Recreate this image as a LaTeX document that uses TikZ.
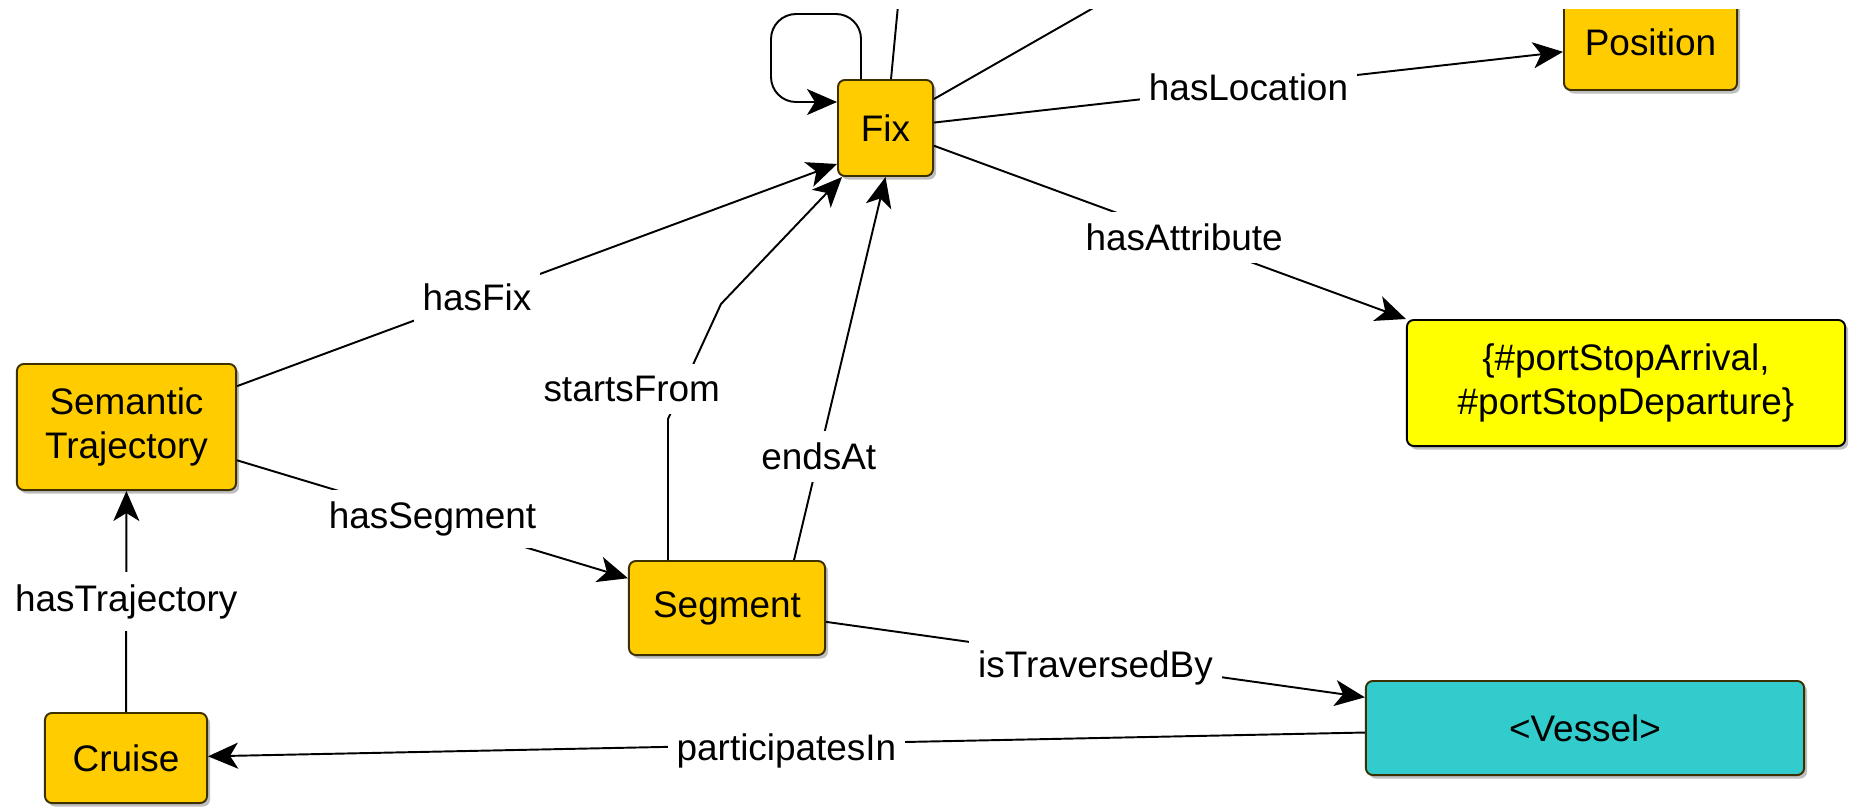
\documentclass[tikz,border=0pt]{standalone}
\usepackage{fontspec}
\setmainfont{Liberation Sans}
\usetikzlibrary{arrows.meta,calc,shadows}

\definecolor{fixorange}{RGB}{255,204,0}
\definecolor{attryellow}{RGB}{255,255,0}
\definecolor{vesselteal}{RGB}{51,204,204}
\definecolor{boxline}{RGB}{60,48,0}

\tikzset{
  concept/.style={draw=boxline, line width=0.55pt, rounded corners=0.07cm, fill=fixorange,
    inner sep=0pt, align=center, font=\fontsize{10.5}{12.5}\selectfont,
    drop shadow={shadow xshift=0.03cm, shadow yshift=-0.035cm, fill=black!25, opacity=1}},
  rel/.style={line width=0.55pt, -{Stealth[length=0.3cm, width=0.26cm, inset=0.08cm]}},
  link/.style={line width=0.55pt},
  lbl/.style={fill=white, inner xsep=0.09cm, inner ysep=0.12cm, font=\fontsize{10.5}{12.5}\selectfont},
}

\begin{document}
\begin{tikzpicture}[x=0.01cm, y=-0.01cm]
            \useasboundingbox (0,0) rectangle (1849,806);
            \clip (0,9) rectangle (1849,806);

            \node[concept, minimum width=0.95cm, minimum height=0.96cm] (fix) at (885.5,128) {Fix};
            \node[concept, minimum width=1.73cm, minimum height=0.96cm] (position) at (1650.5,42) {Position};
            \node[concept, fill=attryellow, draw=black, minimum width=4.38cm, minimum height=1.26cm] (attr) at (1626,383) {\{\#portStopArrival,\\\#portStopDeparture\}};
            \node[concept, minimum width=2.19cm, minimum height=1.26cm] (semtraj) at (126.5,427) {Semantic\\Trajectory};
            \node[concept, minimum width=1.96cm, minimum height=0.94cm] (segment) at (727,608) {Segment};
            \node[concept, minimum width=1.62cm, minimum height=0.90cm] (cruise) at (126,758) {Cruise};
            \node[concept, fill=vesselteal, minimum width=4.38cm, minimum height=0.94cm] (vessel) at (1585,728) {<Vessel>};

            \coordinate (upA) at (899,-5);
            \coordinate (upB) at (1116,-5);
            \draw[link] ($(fix.north west)+(54,0)$) -- (upA);
            \draw[link] ($(fix.north east)+(0,20)$) -- (upB);
            \draw[rel, rounded corners=0.25cm] ($(fix.north west)+(24,0)$) -- ++(0,-65) -- ++(-90,0) -- ++(0,88) -- ($(fix.north west)+(0,23)$);

            \draw[rel] (fix) -- (position) node[lbl, pos=0.5] {hasLocation};
            \draw[rel] (fix) -- (attr.north west) node[lbl, pos=0.53] {hasAttribute};
            \draw[rel] (semtraj) -- ($(fix.south west)+(0,-13)$) node[lbl, pos=0.4] {hasFix};
            \draw[rel] ($(segment.north west)+(40,0)$) -- ++(0,-141) -- ++(53,-115) node[lbl, pos=0.26, xshift=-0.5cm] {startsFrom} -- ($(fix.south west)+(5,0)$);
            \draw[rel] ($(segment.north east)+(-32,0)$) -- (fix.south) node[lbl, pos=0.27] {endsAt};
            \draw[rel] (semtraj) -- (segment) node[lbl, pos=0.5] {hasSegment};
            \draw[rel] (cruise) -- (semtraj) node[lbl, pos=0.5] {hasTrajectory};
            \draw[rel] (segment) -- (vessel) node[lbl, pos=0.5, yshift=-0.08cm] {isTraversedBy};
            \draw[rel] (vessel) -- (cruise) node[lbl, pos=0.5, yshift=-0.07cm] {participatesIn};
        \end{tikzpicture}
\end{document}
